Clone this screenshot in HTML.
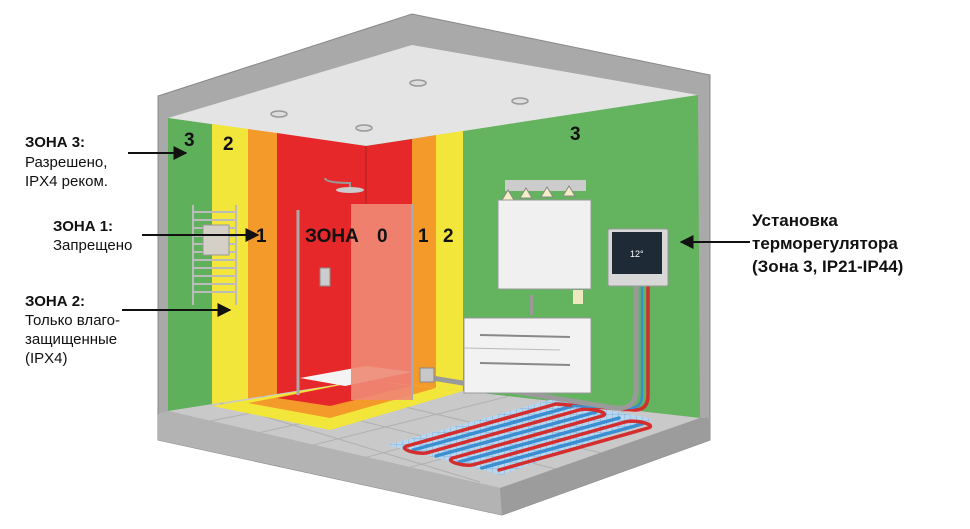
<!DOCTYPE html>
<html><head><meta charset="utf-8"><style>
html,body{margin:0;padding:0;background:#fff}
svg{display:block}
text{font-family:"Liberation Sans",Arial,sans-serif}
</style></head><body>
<svg width="970" height="529" viewBox="0 0 970 529" xmlns="http://www.w3.org/2000/svg">
<defs>
<marker id="ah" viewBox="0 0 10 10" refX="9" refY="5" markerWidth="7" markerHeight="7" orient="auto"><path d="M0,0 L10,5 L0,10 z" fill="#111"/></marker>
<pattern id="grid" width="6" height="6" patternUnits="userSpaceOnUse"><rect width="6" height="6" fill="#b9d6ee"/><path d="M0 0H6M0 0V6" stroke="#7fb2dc" stroke-width="1"/></pattern>
<clipPath id="fl"><polygon points="168,411 366,380 700,418 500,488"/></clipPath>
</defs>
<!-- outer shell -->
<polygon points="158,96 412,14 710,75 710,440 502,515 158,440" fill="#a9a9a9" stroke="#888" stroke-width="1"/>
<!-- ceiling -->
<polygon points="168,118 412,45 698,95 366,146" fill="#e4e4e4"/>
<!-- left wall -->
<polygon points="168,118 366,146 366,380 168,411" fill="#5fb05a"/>
<polygon points="212,124 248,129 248,403 212,406" fill="#f3e63a"/>
<polygon points="248,129 277,133 277,399 248,403" fill="#f39a2b"/>
<polygon points="277,133 366,146 366,380 277,395" fill="#e6282a"/>
<!-- right wall -->
<polygon points="366,146 698,95 700,418 366,380" fill="#64b35e"/>
<polygon points="366,146 412,139 412,386 366,380" fill="#e6282a"/>
<polygon points="412,139 436,135 436,388 412,386" fill="#f39a2b"/>
<polygon points="436,135 463,131 463,391 436,388" fill="#f3e63a"/>
<line x1="366" y1="146" x2="366" y2="380" stroke="#b21f1f" stroke-width="1"/>
<!-- floor -->
<polygon points="168,411 366,380 700,418 500,488" fill="#c9c9c9"/>
<g stroke="#b0b0b0" stroke-width="1" clip-path="url(#fl)">
<line x1="200" y1="423" x2="400" y2="384"/><line x1="240" y1="437" x2="450" y2="390"/><line x1="285" y1="452" x2="510" y2="396"/><line x1="330" y1="467" x2="570" y2="403"/><line x1="380" y1="475" x2="630" y2="410"/>
<line x1="260" y1="396" x2="560" y2="470"/><line x1="320" y1="387" x2="610" y2="455"/><line x1="220" y1="403" x2="480" y2="482"/>
</g>
<!-- floor zone bands -->
<polygon points="212,406 366,380 463,391 330,430" fill="#f3e63a"/>
<polygon points="248,403 366,380 436,388 330,418" fill="#f39a2b"/>
<polygon points="277,398 366,380 412,386 330,406" fill="#e6282a"/>
<polygon points="300,378 366,366 412,372 345,386" fill="#f4f4f4"/>
<!-- slab faces -->
<polygon points="158,414 168,411 500,488 502,515 158,440" fill="#b3b3b3"/>
<polygon points="500,488 700,418 710,418 710,440 502,515" fill="#9c9c9c"/>
<!-- heating mat -->
<polygon points="387,445 553,399 653,419 502,475" fill="url(#grid)"/>
<g fill="none" stroke-width="3.5" stroke-linecap="round">
<path d="M413,450 L573,406 M436,456 L596,412 M459,462 L619,418 M482,468 L642,424" stroke="#3b8fd1"/>
<path d="M556,404 L407,446 C397,449 420,456 430,452 L579,410 C589,407 612,413 602,416 L453,458 C443,461 466,468 476,464 L625,422 C635,419 658,425 648,428 L499,470" stroke="#d32d2d"/>
<path d="M556,404 L635,410 Q648,410 648,395 L648,286" stroke="#d32d2d"/>
<path d="M573,406 L630,408 Q642,408 642,395 L642,286" stroke="#3b8fd1" stroke-width="2.5"/>
</g>
<!-- conduit -->
<path d="M432,378 L615,408 Q636,410 636,390 L636,285" fill="none" stroke="#9a9a9a" stroke-width="5"/>
<rect x="420" y="368" width="14" height="14" fill="#c8c8c8" stroke="#888"/>
<!-- ceiling lights -->
<g fill="#ddd" stroke="#999" stroke-width="1.5"><ellipse cx="418" cy="83" rx="8" ry="3"/><ellipse cx="520" cy="101" rx="8" ry="3"/><ellipse cx="279" cy="114" rx="8" ry="3"/><ellipse cx="364" cy="128" rx="8" ry="3"/></g>
<!-- shower -->
<path d="M325,178 Q325,183 350,183 L350,188" fill="none" stroke="#999" stroke-width="2"/>
<ellipse cx="350" cy="190" rx="14" ry="3" fill="#ccc"/>
<rect x="351" y="204" width="61" height="196" fill="#f08a75" opacity="0.9"/>
<line x1="298" y1="210" x2="298" y2="395" stroke="#aaa" stroke-width="3"/>
<line x1="412" y1="204" x2="412" y2="400" stroke="#aaa" stroke-width="2"/>
<rect x="320" y="268" width="10" height="18" fill="#ccc" stroke="#888"/>
<!-- towel rail -->
<g stroke="#bbb" stroke-width="2" fill="none"><line x1="193" y1="205" x2="193" y2="305"/><line x1="236" y1="205" x2="236" y2="305"/>
<path d="M193,212H236M193,220H236M193,228H236M193,236H236M193,244H236M193,252H236M193,260H236M193,268H236M193,276H236M193,284H236M193,292H236"/></g>
<rect x="203" y="225" width="26" height="30" fill="#d4d0c8" stroke="#999"/>
<!-- mirror & lights -->
<rect x="505" y="180" width="81" height="11" fill="#ccc"/>
<g fill="#f5efc8" stroke="#888"><path d="M502,200 l6,-10 6,10z"/><path d="M520,198 l6,-10 6,10z"/><path d="M541,197 l6,-10 6,10z"/><path d="M563,196 l6,-10 6,10z"/></g>
<rect x="498" y="200" width="93" height="89" fill="#f0f0f0" stroke="#999"/>
<!-- vanity -->
<rect x="464" y="318" width="127" height="75" fill="#f2f2f2" stroke="#999"/>
<line x1="480" y1="335" x2="570" y2="337" stroke="#888" stroke-width="2"/><line x1="480" y1="363" x2="570" y2="365" stroke="#888" stroke-width="2"/>
<line x1="464" y1="348" x2="560" y2="350" stroke="#bbb"/>
<rect x="530" y="295" width="3" height="20" fill="#999"/><rect x="573" y="290" width="10" height="14" fill="#eee8c0"/>
<!-- thermostat -->
<rect x="608" y="229" width="60" height="57" rx="2" fill="#d8d8d8" stroke="#999"/>
<rect x="612" y="232" width="50" height="42" fill="#1e2a36"/>
<text x="630" y="257" font-size="9" fill="#fff">12°</text>
<!-- zone numbers -->
<g font-weight="bold" font-size="19" fill="#111">
<text x="184" y="146">3</text><text x="223" y="150">2</text><text x="256" y="242">1</text>
<text x="305" y="242">ЗОНА</text><text x="377" y="242">0</text><text x="418" y="242">1</text><text x="443" y="242">2</text>
<text x="570" y="140">3</text>
</g>
<!-- left labels -->
<g font-size="15" fill="#111">
<text x="25" y="147" font-weight="bold">ЗОНА 3:</text>
<text x="25" y="167">Разрешено,</text>
<text x="25" y="186">IPX4 реком.</text>
<text x="53" y="231" font-weight="bold">ЗОНА 1:</text>
<text x="53" y="250">Запрещено</text>
<text x="25" y="306" font-weight="bold">ЗОНА 2:</text>
<text x="25" y="325">Только влаго-</text>
<text x="25" y="344">защищенные</text>
<text x="25" y="363">(IPX4)</text>
</g>
<g stroke="#111" stroke-width="2" marker-end="url(#ah)">
<line x1="128" y1="153" x2="186" y2="153"/>
<line x1="142" y1="235" x2="258" y2="235"/>
<line x1="122" y1="310" x2="230" y2="310"/>
<line x1="750" y1="242" x2="681" y2="242"/>
</g>
<g font-size="17" font-weight="bold" fill="#111">
<text x="752" y="226">Установка</text>
<text x="752" y="249">терморегулятора</text>
<text x="752" y="272">(Зона 3, IP21-IP44)</text>
</g>
</svg>
</body></html>
